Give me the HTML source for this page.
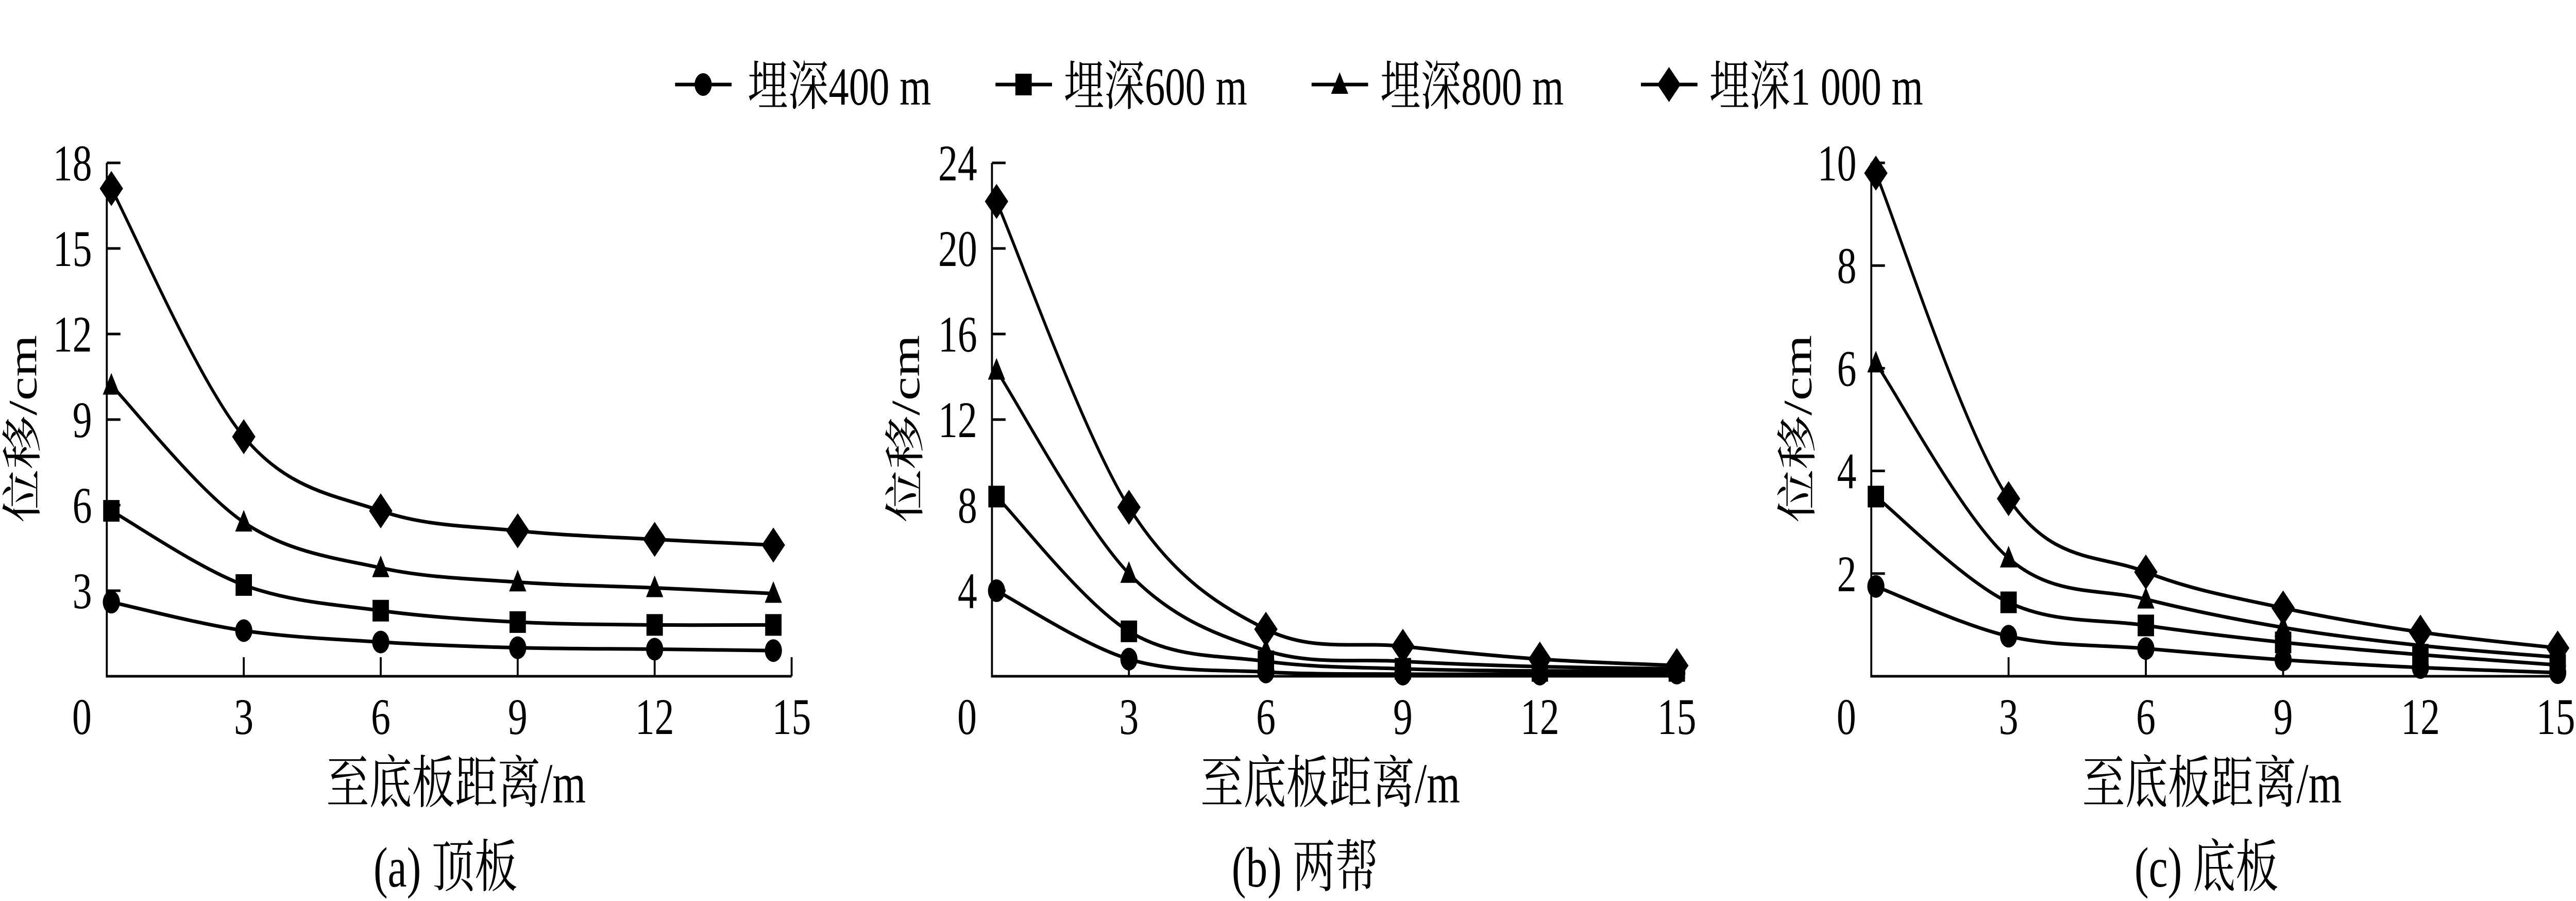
<!DOCTYPE html>
<html><head><meta charset="utf-8">
<style>
html,body{margin:0;padding:0;background:#fff;overflow:hidden;width:100%;height:100%;}
svg{display:block;width:100vw;height:100vh;}
text{font-family:"Liberation Serif","Noto Serif CJK SC",serif;fill:#000;}
</style></head>
<body>
<svg id="chart" viewBox="0 0 6609 1748" preserveAspectRatio="none" xmlns="http://www.w3.org/2000/svg">
<g id="legend"></g>
<g id="panels"></g>
</svg>
<script>
// ---- data ----
const seriesNames = ["埋深400 m","埋深600 m","埋深800 m","埋深1 000 m"];
const markerTypes = ["circle","square","triangle","diamond"];
const panelCaptions = ["(a)  顶板","(b)  两帮","(c)  底板"];
const xTicks = [0,3,6,9,12,15];
const xTickLabels = ["0","3","6","9","12","15"];
const yTicksA = [0,3,6,9,12,15,18];
const yTicksB = [0,4,8,12,16,20,24];
const yTicksC = [0,2,4,6,8,10];
const xValsA = [0.1,3,6,9,12,14.6];
const xValsB = [0.1,3,6,9,12,15];
const xValsC = [0.1,3,6,9,12,15];
const a400 = [2.6,1.6,1.2,1.0,0.95,0.9];
const a600 = [5.8,3.2,2.3,1.9,1.8,1.8];
const a800 = [10.2,5.4,3.8,3.3,3.1,2.9];
const a1000 = [17.1,8.4,5.8,5.1,4.8,4.6];
const b400 = [4.0,0.8,0.2,0.1,0.1,0.15];
const b600 = [8.4,2.1,0.7,0.35,0.25,0.25];
const b800 = [14.3,4.8,1.2,0.7,0.45,0.35];
const b1000 = [22.2,7.9,2.2,1.4,0.8,0.5];
const c400 = [1.75,0.78,0.54,0.32,0.17,0.07];
const c600 = [3.5,1.44,0.99,0.66,0.42,0.22];
const c800 = [6.1,2.3,1.5,0.95,0.6,0.37];
const c1000 = [9.8,3.46,2.03,1.33,0.86,0.55];

const NS = "http://www.w3.org/2000/svg";
function mk(tag, attrs, parent){
  const e = document.createElementNS(NS, tag);
  for (const k in attrs) e.setAttribute(k, attrs[k]);
  parent.appendChild(e);
  return e;
}
function marker(type, x, y, parent){
  let e;
  if (type==="circle") e = mk("ellipse",{cx:x,cy:y,rx:22,ry:22,fill:"#000"},parent);
  else if (type==="square") e = mk("rect",{x:x-21,y:y-21,width:42,height:42,fill:"#000"},parent);
  else if (type==="triangle") e = mk("polygon",{points:`${x},${y-24} ${x+22},${y+18} ${x-22},${y+18}`,fill:"#000"},parent);
  else e = mk("polygon",{points:`${x},${y-34} ${x+30},${y} ${x},${y+34} ${x-30},${y}`,fill:"#000"},parent);
  return e;
}
function spline(pts){
  let d = `M${pts[0][0]},${pts[0][1]}`;
  for (let i=0;i<pts.length-1;i++){
    const p0 = pts[Math.max(0,i-1)], p1 = pts[i], p2 = pts[i+1], p3 = pts[Math.min(pts.length-1,i+2)];
    const c1x = p1[0]+(p2[0]-p0[0])/6, c1y = p1[1]+(p2[1]-p0[1])/6;
    const c2x = p2[0]-(p3[0]-p1[0])/6, c2y = p2[1]-(p3[1]-p1[1])/6;
    d += ` C${c1x},${c1y} ${c2x},${c2y} ${p2[0]},${p2[1]}`;
  }
  return d;
}

// legend
const legend = document.getElementById("legend");
const legLineX = [1732,2554,3365,4210];
const legTextX = [1918,2729,3541,4385];
for (let i=0;i<4;i++){
  const g = mk("g",{},legend);
  
  
  mk("line",{x1:legLineX[i],y1:164,x2:legLineX[i]+145,y2:164,stroke:"#000","stroke-width":7},g);
  marker(markerTypes[i], legLineX[i]+72, 164, g);
  const t = mk("text",{x:legTextX[i],y:203,"font-size":104},g);
  t.textContent = seriesNames[i];
}

// panels
const panels = [
  {x0:274,x1:2031,ticks:yTicksA,max:18,xs:xValsA,ser:[a400,a600,a800,a1000],ytx:57,xtx:1170,cap:1143},
  {x0:2545,x1:4302,ticks:yTicksB,max:24,xs:xValsB,ser:[b400,b600,b800,b1000],ytx:2322,xtx:3413,cap:3348},
  {x0:4801,x1:6562,ticks:yTicksC,max:10,xs:xValsC,ser:[c400,c600,c800,c1000],ytx:4611,xtx:5675,cap:5661}
];
const Y0 = 1312, YT = 316;
const root = document.getElementById("panels");
panels.forEach((p,pi)=>{
  const g = mk("g",{},root);
  
  
  const sx = v => p.x0 + (v/15)*(p.x1-p.x0);
  const sy = v => Y0 - (v/p.max)*(Y0-YT);
  const ax = mk("path",{d:`M${p.x0},${YT} V${Y0} H${p.x1}`,fill:"none",stroke:"#000","stroke-width":5},g);
  
  
  p.ticks.forEach(v=>{
    if (v===0) return;
    mk("line",{x1:p.x0,y1:sy(v),x2:p.x0+35,y2:sy(v),stroke:"#000","stroke-width":5},g);
    const t = mk("text",{x:p.x0-38,y:sy(v)+34,"font-size":100,"text-anchor":"end"},g);
    
    
    t.textContent = String(v);
  });
  xTicks.forEach((v,i)=>{
    if (v!==0) mk("line",{x1:sx(v),y1:Y0,x2:sx(v),y2:Y0-37,stroke:"#000","stroke-width":5},g);
    let lx = v===0 ? p.x0-64 : sx(v);
    let anchor = "middle";
    if (lx + 50 > 6609) { lx = 6607; anchor = "end"; }
    const t = mk("text",{x:lx,y:1424,"font-size":100,"text-anchor":anchor},g);
    
    
    t.textContent = xTickLabels[i];
  });
  const yt = mk("text",{x:0,y:0,"font-size":104,"text-anchor":"middle",transform:`translate(${p.ytx+36},832) rotate(-90)`},g);
  
  
  yt.textContent = "位移/cm";
  const xt = mk("text",{x:p.xtx,y:1557,"font-size":110,"text-anchor":"middle"},g);
  
  
  xt.textContent = "至底板距离/m";
  const cp = mk("text",{x:p.cap,y:1720,"font-size":110,"text-anchor":"middle"},g);
  
  
  cp.textContent = panelCaptions[pi];
  p.ser.forEach((vals,si)=>{
    const pts = vals.map((v,i)=>[sx(p.xs[i]), sy(v)]);
    const path = mk("path",{d:spline(pts),fill:"none",stroke:"#000","stroke-width":7},g);
    
    
    pts.forEach(pt=>{
      const m = marker(markerTypes[si], pt[0], pt[1], g);
      
      
    });
  });
});
</script>
</body></html>
